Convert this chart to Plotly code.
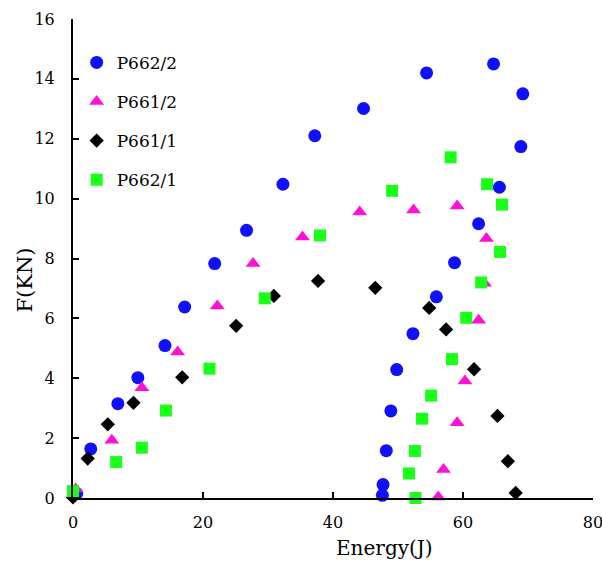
import plotly.graph_objects as go

# P662/2 (blue circles)
p662_2_x = [0.57, 2.73, 6.9, 9.98, 14.15, 17.18, 21.8, 26.7, 32.3, 37.2, 44.7, 54.4, 64.7, 69.2, 68.9, 65.6, 62.4, 58.7, 55.9, 52.3, 49.8, 48.9, 48.2, 47.7, 47.6]
p662_2_y = [0.15, 1.64, 3.15, 4.02, 5.09, 6.38, 7.83, 8.94, 10.48, 12.1, 13.01, 14.2, 14.5, 13.5, 11.74, 10.38, 9.16, 7.86, 6.72, 5.49, 4.29, 2.91, 1.58, 0.45, 0.09]

# P661/2 (magenta triangles)
p661_2_x = [0.4, 5.97, 10.6, 16.1, 22.2, 27.7, 35.3, 44.1, 52.4, 59.1, 63.6, 63.3, 62.4, 60.3, 59.1, 57.0, 56.2]
p661_2_y = [0.3, 1.93, 3.68, 4.88, 6.41, 7.83, 8.72, 9.55, 9.62, 9.75, 8.67, 7.17, 5.94, 3.91, 2.51, 0.95, 0.03]

# P661/1 (black diamonds)
p661_1_x = [0.0, 2.26, 5.35, 9.3, 16.8, 25.1, 30.9, 37.7, 46.5, 54.8, 57.4, 61.7, 65.3, 66.9, 68.1]
p661_1_y = [0.02, 1.32, 2.46, 3.18, 4.03, 5.75, 6.75, 7.25, 7.02, 6.35, 5.63, 4.3, 2.74, 1.23, 0.17]

# P662/1 (green squares)
p662_1_x = [0.0, 6.64, 10.6, 14.3, 21.0, 29.5, 38.0, 49.1, 58.1, 63.7, 66.0, 65.7, 62.8, 60.5, 58.3, 55.1, 53.7, 52.6, 51.7, 52.7]
p662_1_y = [0.23, 1.2, 1.68, 2.92, 4.32, 6.67, 8.77, 10.26, 11.38, 10.48, 9.8, 8.22, 7.2, 6.02, 4.64, 3.42, 2.65, 1.57, 0.82, 0.0]

x_ticks = [0, 20, 40, 60, 80]
y_ticks = [0, 2, 4, 6, 8, 10, 12, 14, 16]

x_title = "Energy(J)"
y_title = "F(KN)"

FONT = "DejaVu Serif"

series = [
    ("P662/2", p662_2_x, p662_2_y, "circle", "#1010FF", 13),
    ("P661/2", p661_2_x, p661_2_y, "triangle-up", "#FF10D4", 13),
    ("P661/1", p661_1_x, p661_1_y, "diamond", "#000000", 11),
    ("P662/1", p662_1_x, p662_1_y, "square", "#19FF19", 12),
]

fig = go.Figure()
for i, (name, xs, ys, sym, col, sz) in enumerate(series):
    fig.add_trace(go.Scatter(
        x=xs, y=ys, mode="markers", name=name, legendgroup=f"g{i}",
        marker=dict(symbol=sym, color=col, size=sz, line=dict(width=0)),
        cliponaxis=False,
    ))

fig.update_layout(
    width=602, height=563,
    margin=dict(l=73, r=9, t=19, b=65),
    paper_bgcolor="white", plot_bgcolor="white",
    font=dict(family=FONT, size=17, color="black"),
    showlegend=True,
    legend=dict(x=0.007, y=0.946, xanchor="left", yanchor="top",
                bgcolor="rgba(0,0,0,0)", tracegroupgap=14,
                font=dict(family=FONT, size=17, color="black"),
                itemwidth=30),
    xaxis=dict(range=[0, 80], tickvals=x_ticks, showgrid=False, zeroline=False,
               showline=True, linecolor="black", linewidth=2,
               ticks="inside", ticklen=6, tickwidth=1.5, tickcolor="black",
               ticklabeloverflow="allow", automargin=False, ticklabelstandoff=9,
               tickfont=dict(family=FONT, size=16, color="black")),
    yaxis=dict(range=[0, 16], tickvals=y_ticks, showgrid=False, zeroline=False,
               showline=True, linecolor="black", linewidth=2,
               ticks="inside", ticklen=6, tickwidth=1.5, tickcolor="black",
               ticklabeloverflow="allow", automargin=False, ticklabelstandoff=13,
               tickfont=dict(family=FONT, size=16, color="black")),
    annotations=[
        dict(text=x_title, xref="paper", yref="paper", x=(384.5 - 73) / 520, y=-(548 - 498) / 479,
             xanchor="center", yanchor="middle", showarrow=False,
             font=dict(family=FONT, size=20, color="black")),
        dict(text=y_title, xref="paper", yref="paper", x=(24 - 73) / 520, y=(498 - 280.5) / 479,
             xanchor="center", yanchor="middle", showarrow=False, textangle=-90,
             font=dict(family=FONT, size=21, color="black")),
    ],
)

fig.write_html("out.html")
